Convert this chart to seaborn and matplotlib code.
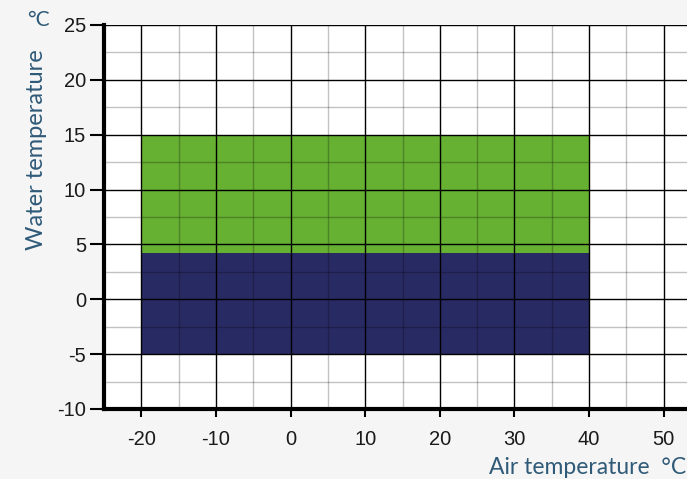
import matplotlib
matplotlib.use("Agg")
import matplotlib.pyplot as plt
from matplotlib.ticker import MultipleLocator
import seaborn as sns

# Zonas de funcionamiento (temperatura del aire vs temperatura del agua)
zonas = ["frio", "calor"]
aire_min = [-20, -20]
aire_max = [40, 40]
agua_min = [-5, 4.2]
agua_max = [4.2, 15]
colores = ["#282a63", "#66b032"]

x_ticks = [-20, -10, 0, 10, 20, 30, 40, 50]
y_ticks = [-10, -5, 0, 5, 10, 15, 20, 25]

sns.set_style("white")
plt.rcParams["font.family"] = ["Liberation Sans", "DejaVu Sans"]

fig = plt.figure(figsize=(6.87, 4.79), dpi=100)
fig.patch.set_facecolor("#f5f5f5")
ax = fig.add_axes([104 / 687, 70 / 479, 597 / 687, 384 / 479])
ax.set_facecolor("white")

for i in range(len(zonas)):
    ax.bar(aire_min[i], agua_max[i] - agua_min[i], bottom=agua_min[i],
           width=aire_max[i] - aire_min[i], align="edge",
           color=colores[i], edgecolor="none", zorder=1)

ax.set_xlim(-25, 55)
ax.set_ylim(-10, 25)
ax.set_xticks(x_ticks)
ax.set_yticks(y_ticks)
ax.set_xticklabels([str(v) for v in x_ticks])
ax.set_yticklabels([str(v) for v in y_ticks])
ax.xaxis.set_minor_locator(MultipleLocator(5))
ax.yaxis.set_minor_locator(MultipleLocator(2.5))

ax.grid(which="major", color="black", linewidth=1.0, zorder=2)
ax.grid(which="minor", color="black", alpha=0.24, linewidth=1.0, zorder=2)
ax.set_axisbelow(False)

for s in ["top", "right"]:
    ax.spines[s].set_visible(False)
ax.spines["left"].set_linewidth(3)
ax.spines["bottom"].set_linewidth(3)
ax.spines["left"].set_color("black")
ax.spines["bottom"].set_color("black")

ax.tick_params(axis="y", which="major", direction="out", length=10, width=1.5,
               labelsize=14.5, colors="black", labelcolor="#1a1a1a", pad=3,
               left=True)
ax.tick_params(axis="x", which="major", direction="out", length=6, width=1.5,
               labelsize=14.5, colors="black", labelcolor="#1a1a1a", pad=9,
               bottom=True)
ax.tick_params(which="minor", length=0)

azul = "#2f5a78"
fig.text(37 / 687, 1 - 150 / 479, "Water temperature", rotation=90,
         ha="center", va="center", fontsize=17, color=azul, family="Lato")
fig.text(38 / 687, 1 - 20 / 479, "°C", ha="center", va="center",
         fontsize=15, color=azul, family="Lato")
fig.text(686 / 687, 1 - 467 / 479, "Air temperature  °C", ha="right",
         va="center", fontsize=16.5, color=azul, family="Lato")

fig.savefig("out.png", dpi=100, facecolor=fig.get_facecolor())
